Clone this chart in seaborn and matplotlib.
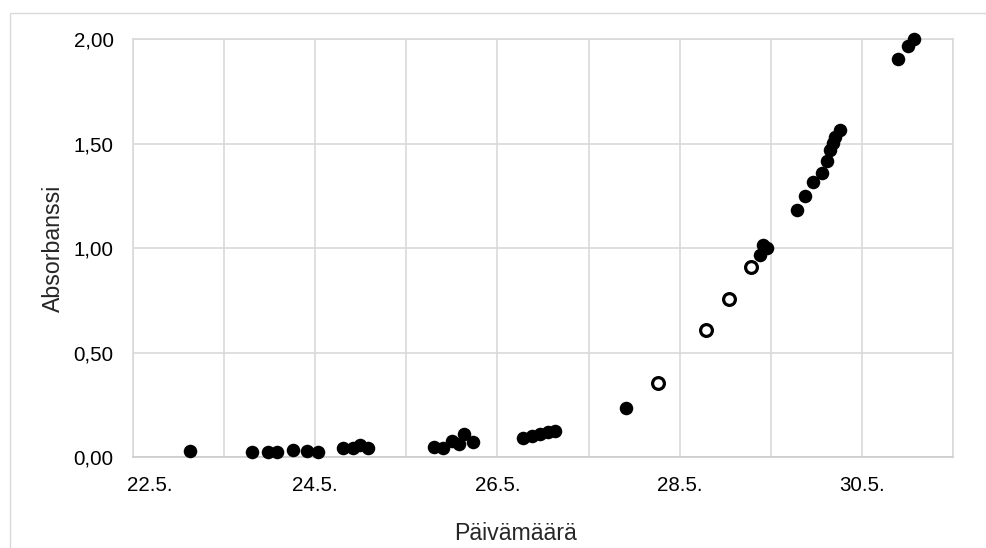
import matplotlib
matplotlib.use("Agg")
import matplotlib.pyplot as plt
import matplotlib.ticker as mticker
import matplotlib.transforms as mtrans
from matplotlib.patches import Rectangle
import numpy as np
import pandas as pd
import seaborn as sns

# Measurement times as fractional day of May, absorbance readings
filled_day = [22.63, 23.31, 23.48, 23.58, 23.76, 23.91, 24.03,
              24.30, 24.42, 24.49, 24.58,
              25.30, 25.40, 25.50, 25.58, 25.63, 25.73,
              26.28, 26.38, 26.47, 26.55, 26.63,
              27.41,
              28.88, 28.92, 28.96,
              29.29, 29.38, 29.46, 29.56, 29.62, 29.65, 29.68, 29.71, 29.76,
              30.40, 30.51, 30.57]
filled_abs = [0.027, 0.022, 0.022, 0.022, 0.034, 0.029, 0.025,
              0.042, 0.043, 0.057, 0.042,
              0.049, 0.045, 0.077, 0.062, 0.109, 0.070,
              0.089, 0.102, 0.109, 0.118, 0.124,
              0.235,
              0.967, 1.015, 1.002,
              1.182, 1.249, 1.318, 1.358, 1.417, 1.470, 1.502, 1.533, 1.565,
              1.904, 1.967, 2.000]

open_day = [27.76, 28.29, 28.54, 28.78]
open_abs = [0.353, 0.608, 0.755, 0.911]

tick_days = [22, 24, 26, 28, 30]
tick_labels = ["22.5.", "24.5.", "26.5.", "28.5.", "30.5."]
y_ticks = [0.0, 0.5, 1.0, 1.5, 2.0]

sns.set_theme(style="white")
plt.rcParams["font.family"] = ["Liberation Sans", "DejaVu Sans"]

W, H = 987, 548
fig = plt.figure(figsize=(W / 100, H / 100), dpi=100)
fig.patch.set_facecolor("white")

# chart-area frame
fig.patches.append(Rectangle((10 / W, -0.2), 2.0, 1 - 13 / H + 0.2,
                             transform=fig.transFigure, fill=False,
                             edgecolor="#d9d9d9", linewidth=1.0, zorder=0))

left, right, top, bottom = 133, 953, 39.3, 457
ax = fig.add_axes([left / W, 1 - bottom / H, (right - left) / W, (bottom - top) / H])

df_f = pd.DataFrame({"day": filled_day, "abs": filled_abs})
df_o = pd.DataFrame({"day": open_day, "abs": open_abs})

sns.scatterplot(data=df_f, x="day", y="abs", ax=ax, s=95, color="black",
                linewidth=0, clip_on=False, zorder=3)
sns.scatterplot(data=df_o, x="day", y="abs", ax=ax, s=72, facecolor="white",
                edgecolor="black", linewidth=2.3, clip_on=False, zorder=3)

ax.set_xlim(22, 31)
ax.set_ylim(0, 2)
ax.set_xticks(tick_days)
ax.set_xticklabels(tick_labels)
ax.set_xticks([23, 25, 27, 29, 31], minor=True)
ax.set_yticks(y_ticks)
ax.yaxis.set_major_formatter(mticker.FuncFormatter(lambda v, p: f"{v:.2f}".replace(".", ",")))

ax.grid(True, which="both", axis="x", color="#d9d9d9", linewidth=1.2)
ax.grid(True, which="major", axis="y", color="#d9d9d9", linewidth=1.2)
ax.set_axisbelow(True)
for sp in ax.spines.values():
    sp.set_visible(True)
    sp.set_color("#d9d9d9")
    sp.set_linewidth(1.2)
ax.spines["bottom"].set_color("#cccccc")

ax.tick_params(axis="both", which="both", length=0, labelsize=14.8, colors="black")
ax.tick_params(axis="x", pad=14)
ax.tick_params(axis="y", pad=14)

# first date label sits a little inward from the axis corner
first = ax.get_xticklabels()[0]
first.set_transform(first.get_transform() + mtrans.ScaledTranslation(17 / 100, 0, fig.dpi_scale_trans))

ax.set_xlabel("")
ax.set_ylabel("")
fig.text(515 / W, 1 - 533 / H, "Päivämäärä", ha="center", va="center", fontsize=16.7)
fig.text(53 / W, 1 - 248 / H, "Absorbanssi", ha="center", va="center",
         rotation=90, fontsize=16.7)

fig.savefig("out.png", dpi=100, facecolor="white")
